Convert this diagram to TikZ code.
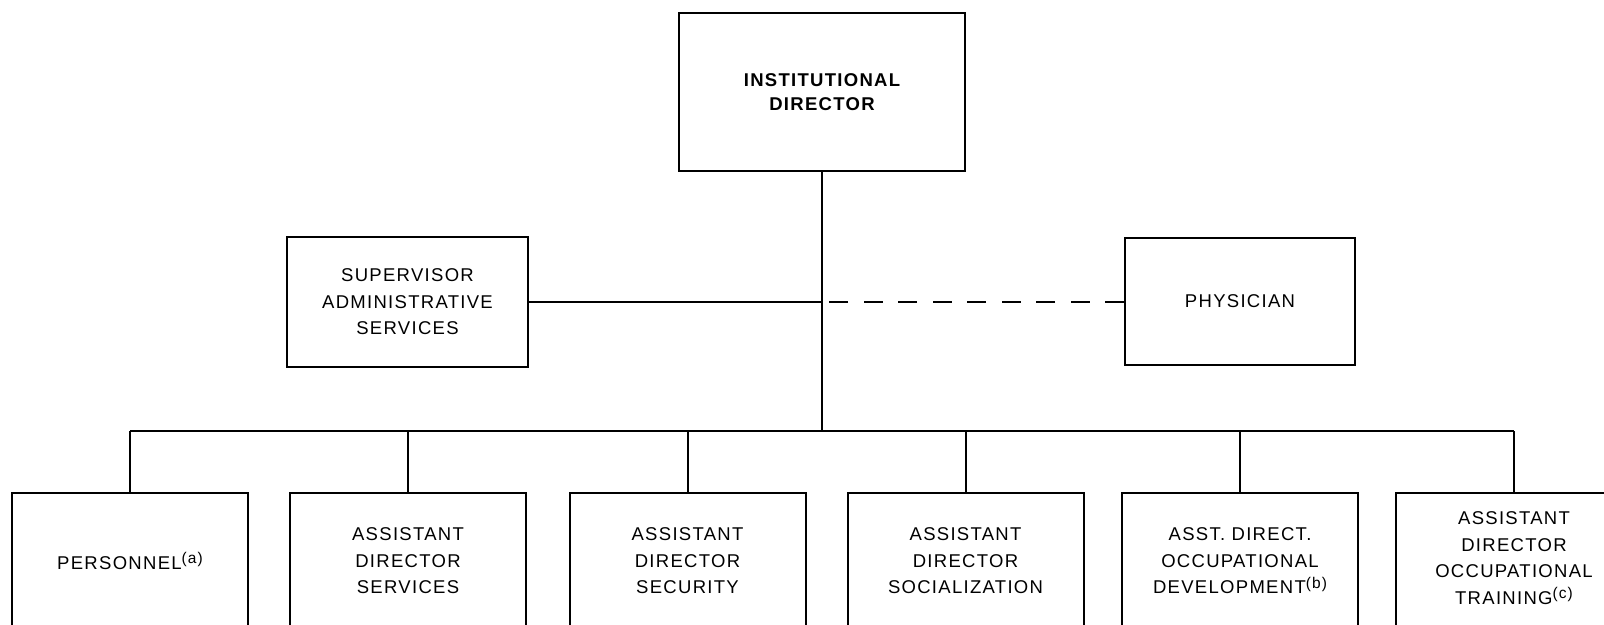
\documentclass[tikz,border=0pt]{standalone}
\usepackage{fontspec}
\newfontfamily\chartfont{Liberation Sans}[LetterSpace=7]
% footnote marks set a little smaller and raised
\newcommand{\fnmark}[1]{\raisebox{0.6ex}{\fontsize{15.5}{15.5}\selectfont(#1)}}
\begin{document}
\begin{tikzpicture}[x=1pt,y=-1pt,
  every node/.style={font=\chartfont\fontsize{18.5}{26.5}\selectfont, align=center, inner sep=0pt},
  orgbox/.style={draw, line width=2pt, minimum width=#1, minimum height=130},
  lowbox/.style={draw, line width=2pt, minimum width=236, minimum height=136},
  link/.style={line width=2pt},
  dotted link/.style={line width=2pt, dash pattern=on 19pt off 15.5pt}]
\useasboundingbox (0,0) rectangle (1604,624);
\clip (0,0) rectangle (1604,624);
\fill[white] (0,0) rectangle (1604,624);

% top level
\node[draw, line width=2pt, minimum width=286, minimum height=158,
      font=\chartfont\bfseries\fontsize{18.5}{23.5}\selectfont] (dir) at (822,92)
      {INSTITUTIONAL\\DIRECTOR};

% staff positions
\node[orgbox=241] (sup) at (407.5,302) {SUPERVISOR\\ADMINISTRATIVE\\SERVICES};
\node[orgbox=230, minimum height=127] (phy) at (1240,301.5) {PHYSICIAN};

% line departments
\node[lowbox] (b1) at (130,561)   {PERSONNEL\fnmark{a}};
\node[lowbox] (b2) at (408,561)   {ASSISTANT\\DIRECTOR\\SERVICES};
\node[lowbox] (b3) at (687.5,561) {ASSISTANT\\DIRECTOR\\SECURITY};
\node[lowbox] (b4) at (965.5,561) {ASSISTANT\\DIRECTOR\\SOCIALIZATION};
\node[lowbox] (b5) at (1240,561)  {ASST. DIRECT.\\OCCUPATIONAL\\DEVELOPMENT\fnmark{b}};
\node[lowbox] (b6) at (1514,561)  {};
\node (b6text) at ([yshift=3pt]b6.center) {ASSISTANT\\DIRECTOR\\OCCUPATIONAL\\TRAINING\fnmark{c}};

% connectors
\coordinate (bus) at (822,431);
\draw[link] (dir.south) -- (bus);
\draw[link] (sup.east) -- (sup.east -| dir.south);
\draw[dotted link] (phy.west) -- (phy.west -| dir.south);
\draw[link] (b1.north |- bus) -- (b6.north |- bus);
\foreach \b in {b1,b2,b3,b4,b5,b6}
  \draw[link] (\b.north) -- (\b.north |- bus);
\end{tikzpicture}
\end{document}
